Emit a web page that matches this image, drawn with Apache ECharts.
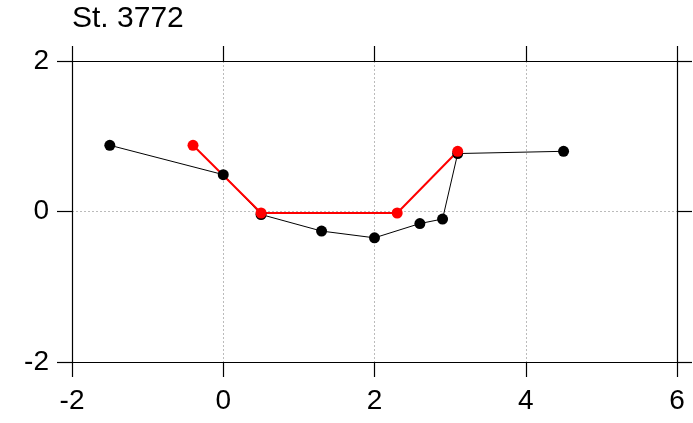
<!DOCTYPE html>
<html>
<head>
<meta charset="utf-8">
<script src="https://cdn.jsdelivr.net/npm/echarts@6/dist/echarts.min.js"></script>
<style>
  html, body { margin: 0; padding: 0; background: #fff; }
  #main { width: 693px; height: 423px; }
</style>
</head>
<body>
<div id="main"></div>
<script>
// black section profile
var blackX = [-1.5, 0, 0.5, 1.3, 2, 2.6, 2.9, 3.1, 4.5];
var blackY = [0.88, 0.49, -0.04, -0.26, -0.35, -0.16, -0.1, 0.77, 0.8];
// red simplified profile
var redX = [-0.4, 0.5, 2.3, 3.1];
var redY = [0.88, -0.02, -0.02, 0.8];
var titleText = 'St. 3772';

function pairs(xs, ys) {
  var out = [];
  for (var i = 0; i < xs.length; i++) out.push([xs[i], ys[i]]);
  return out;
}

var font = 'Liberation Sans, Arial, sans-serif';
var axisLine = { show: true, onZero: false, lineStyle: { color: '#000', width: 1.2 } };
var axisTick = { show: true, inside: false, length: 15, lineStyle: { color: '#000', width: 1.2 } };
var grid = { type: [2, 2], color: '#bbb', width: 1 };

var option = {
  animation: false,
  backgroundColor: '#fff',
  title: {
    text: titleText,
    left: 72, top: 4, padding: 0,
    textStyle: { fontFamily: font, fontSize: 30, fontWeight: 'normal', color: '#000' }
  },
  grid: { left: 72, right: 16, top: 61, bottom: 61, containLabel: false },
  xAxis: [
    {
      type: 'value', position: 'bottom', min: -2, max: 6, interval: 2,
      axisLine: axisLine, axisTick: axisTick,
      axisLabel: { margin: 25, fontFamily: font, fontSize: 28, color: '#000' },
      splitLine: { show: true, lineStyle: grid }
    },
    {
      type: 'value', position: 'top', min: -2, max: 6, interval: 2,
      axisLine: axisLine, axisTick: axisTick,
      axisLabel: { show: false }, splitLine: { show: false }
    }
  ],
  yAxis: [
    {
      type: 'value', position: 'left', min: -2, max: 2, interval: 2,
      axisLine: axisLine, axisTick: axisTick,
      axisLabel: { margin: 23, fontFamily: font, fontSize: 28, color: '#000' },
      splitLine: { show: true, lineStyle: grid }
    },
    {
      type: 'value', position: 'right', min: -2, max: 2, interval: 2,
      axisLine: axisLine, axisTick: axisTick,
      axisLabel: { show: false }, splitLine: { show: false }
    }
  ],
  series: [
    {
      type: 'line', data: pairs(blackX, blackY),
      symbol: 'circle', symbolSize: 11,
      lineStyle: { color: '#000', width: 1 },
      itemStyle: { color: '#000' }
    },
    {
      type: 'line', data: pairs(redX, redY),
      symbol: 'circle', symbolSize: 11,
      lineStyle: { color: '#ff0000', width: 2 },
      itemStyle: { color: '#ff0000' }
    }
  ]
};

var chart = echarts.init(document.getElementById('main'));
chart.setOption(option);
</script>
</body>
</html>
